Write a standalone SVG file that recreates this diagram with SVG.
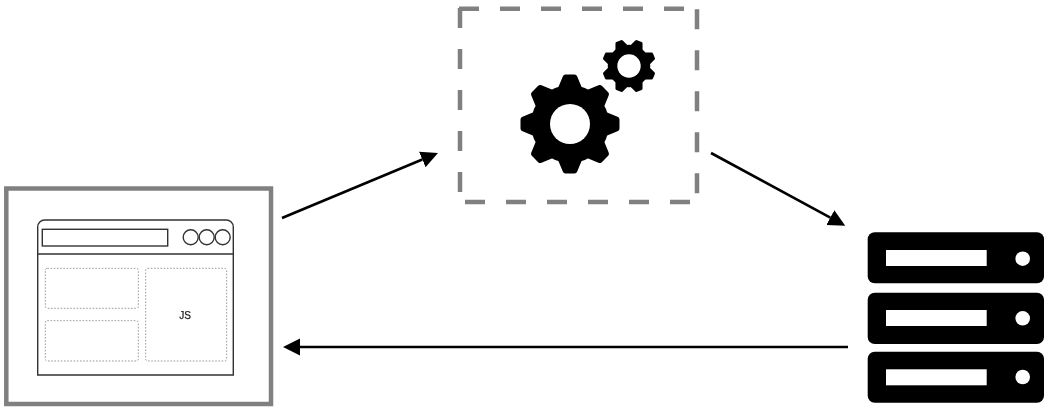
<svg xmlns="http://www.w3.org/2000/svg" width="1045" height="407" viewBox="0 0 1045 407">
<style>
.gray{fill:none;stroke:#808080;stroke-width:4.5}
.dash{fill:none;stroke:#808080;stroke-width:4.5;stroke-dasharray:20 21}
.thin{fill:none;stroke:#333;stroke-width:1.4}
.dot{fill:none;stroke:#999;stroke-width:1;stroke-dasharray:1.6 1.6}
.conn{fill:none;stroke:#000;stroke-width:2.6}
.srv{fill:#000}
.hole{fill:#fff}
text{font-family:"Liberation Sans",Arial,sans-serif;font-size:10px;fill:#222;text-anchor:middle;stroke:#222;stroke-width:.25}
</style>
<defs>
<filter id="soft" x="-5%" y="-5%" width="110%" height="110%"><feGaussianBlur stdDeviation="0.5"/></filter>
<marker id="arrow" markerUnits="userSpaceOnUse" markerWidth="19" markerHeight="18" refX="0" refY="8.5" orient="auto"><path d="M0,0L17,8.5L0,17z" fill="#000"/></marker>
<g id="gear">
<circle r="39"/>
<g id="tooth2"><path id="tooth" d="M-12,-36L-7.2,-47.5Q-6.5,-49.5 -4.5,-49.5H4.5Q6.5,-49.5 7.2,-47.5L12,-36z"/><use href="#tooth" transform="rotate(180)"/></g>
<use href="#tooth2" transform="rotate(45)"/>
<use href="#tooth2" transform="rotate(90)"/>
<use href="#tooth2" transform="rotate(135)"/>
</g>
</defs>
<rect width="1045" height="407" fill="#fff"/>
<g filter="url(#soft)">
<g id="connectors">
<path class="conn" d="M282,218L422.3,159.5" marker-end="url(#arrow)"/>
<path class="conn" d="M711,153L830.3,217.6" marker-end="url(#arrow)"/>
<path class="conn" d="M848,347H300" marker-end="url(#arrow)"/>
</g>
<g id="browser">
<rect class="gray" x="6.3" y="188.5" width="264.7" height="215.5"/>
<path class="thin" d="M37.7,375V227a7,7 0 0 1 7,-7H226.3a7,7 0 0 1 7,7V375z"/>
<path class="thin" d="M37.7,254H233.3"/>
<rect class="thin" x="42.3" y="229.3" width="125.4" height="16.7"/>
<circle class="thin" cx="190.7" cy="237.3" r="7.5"/>
<circle class="thin" cx="206.7" cy="237.3" r="7.5"/>
<circle class="thin" cx="222.7" cy="237.3" r="7.5"/>
<rect class="dot" x="45.3" y="268.3" width="93" height="40" rx="2"/>
<rect class="dot" x="45.3" y="320.7" width="93" height="40.3" rx="2"/>
<rect class="dot" x="145.7" y="268.3" width="81" height="92.7" rx="2"/>
<text x="185" y="319">JS</text>
</g>
<g id="process">
<path class="dash" d="M459,8.7H697"/>
<path class="dash" d="M697,9.3V202"/>
<path class="dash" d="M690,202H460"/>
<path class="dash" d="M460,192V8"/>
<use href="#gear" transform="translate(570,124)"/>
<circle class="hole" cx="570" cy="124" r="20"/>
<use href="#gear" transform="translate(629,66) rotate(22.5) scale(.545)"/>
<circle class="hole" cx="629" cy="66" r="11.7"/>
</g>
<g id="servers">
<rect class="srv" x="867.7" y="232.3" width="176.3" height="51" rx="7"/>
<rect class="hole" x="886" y="250" width="100.7" height="16"/>
<circle class="hole" cx="1022.7" cy="258.7" r="7.3"/>
<rect class="srv" x="867.7" y="292.7" width="176.3" height="51.3" rx="7"/>
<rect class="hole" x="886" y="310" width="100.7" height="16"/>
<circle class="hole" cx="1022.7" cy="318.3" r="7.3"/>
<rect class="srv" x="867.7" y="351.7" width="176.3" height="51" rx="7"/>
<rect class="hole" x="886" y="369.3" width="100.7" height="16"/>
<circle class="hole" cx="1022.7" cy="377" r="7.3"/>
</g>
</g>
</svg>
